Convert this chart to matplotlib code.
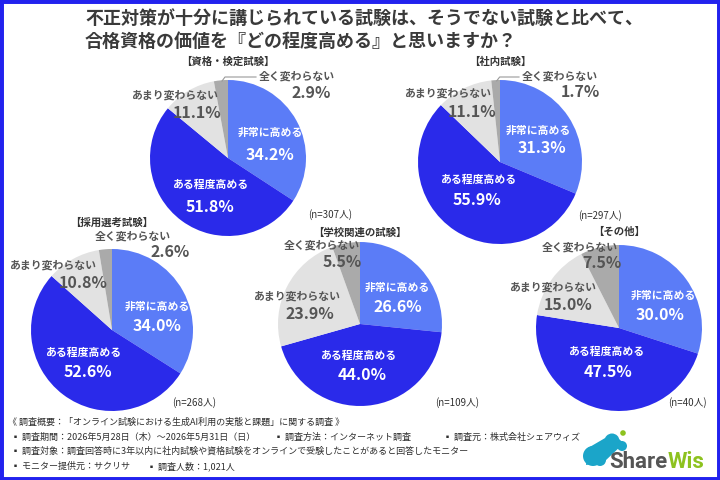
import numpy as np
import matplotlib
matplotlib.use("Agg")
import matplotlib.pyplot as plt
from matplotlib.patches import Rectangle, Circle, Polygon

plt.rcParams['font.family'] = ['Noto Sans CJK JP', 'DejaVu Sans']

# ---------------- data ----------------
title_lines = ["不正対策が十分に講じられている試験は、そうでない試験と比べて、",
               "合格資格の価値を『どの程度高める』と思いますか？"]
categories = ["非常に高める", "ある程度高める", "あまり変わらない", "全く変わらない"]
groups = ["【資格・検定試験】", "【社内試験】", "【採用選考試験】", "【学校関連の試験】", "【その他】"]
val_shikaku = [34.2, 51.8, 11.1, 2.9]
val_shanai = [31.3, 55.9, 11.1, 1.7]
val_saiyou = [34.0, 52.6, 10.8, 2.6]
val_gakkou = [26.6, 44.0, 23.9, 5.5]
val_sonota = [30.0, 47.5, 15.0, 7.5]
n_counts = [307, 297, 268, 109, 40]
footer_lines = [
    [("《 調査概要：「オンライン試験における生成AI利用の実態と課題」に関する調査 》", 8)],
    [("▪ 調査期間：2026年5月28日（木）～2026年5月31日（日）", 11),
     ("▪ 調査方法：インターネット調査", 274),
     ("▪ 調査元：株式会社シェアウィズ", 443)],
    [("▪ 調査対象：調査回答時に3年以内に社内試験や資格試験をオンラインで受験したことがあると回答したモニター", 11)],
    [("▪ モニター提供元：サクリサ", 11), ("▪ 調査人数：1,021人", 147)],
]
all_values = [val_shikaku, val_shanai, val_saiyou, val_gakkou, val_sonota]

# ---------------- layout (pixel coords, y from top) ----------------
colors = ["#5B7CF7", "#2A2AEA", "#E2E2E2", "#AAAAAA"]
pies = [  # cx, cy, r
    (228, 158, 78), (500, 162, 82), (112, 330, 81), (360, 324, 82), (619, 328, 83)]
group_title_y = [62, 62, 223, 233, 232]
# label offsets relative to centre: (name_xy, pct_xy) for each category
offsets = [
    [((42, -25), (42, -3)), ((-18, 27), (-18, 49)), ((-53, -63), (-31, -45)), ((69, -82), (83, -65))],
    [((38, -31), (42, -14)), ((-22, 18), (-23, 38)), ((-52, -69), (-28, -50)), ((60, -86), (80, -70))],
    [((45, -23), (45, -4)), ((-29, 23), (-24, 42)), ((-59, -65), (-29, -47)), ((21, -94), (58, -78))],
    [((37, -36), (38, -17)), ((-2, 32), (2, 51)), ((-63, -28), (-50, -10)), ((-38, -79), (-18, -62))],
    [((44, -32), (41, -13)), ((-13, 24), (-11, 44)), ((-66, -41), (-51, -23)), ((-39, -81), (-17, -65))],
]
n_pos = [(330, 215), (600, 216), (194, 403), (457, 403), (687, 403)]
leaders = [True, True, False, False, False]

W, H = 720, 480
fig = plt.figure(figsize=(7.2, 4.8), dpi=100)
ax = fig.add_axes([0, 0, 1, 1])

def Y(y):
    return H - y

for i, (vals, (cx, cy, r)) in enumerate(zip(all_values, pies)):
    ax.pie(vals, colors=colors, startangle=90, counterclock=False,
           center=(cx, Y(cy)), radius=r, wedgeprops=dict(linewidth=0))
    ax.text(cx, Y(group_title_y[i]), groups[i], ha='center', va='center',
            fontsize=7.5, fontweight='bold', color='#333333')
    for k in range(4):
        (nx, ny), (px, py) = offsets[i][k]
        col = 'white' if k < 2 else '#555555'
        ax.text(cx + nx, Y(cy + ny), categories[k], ha='center', va='center',
                fontsize=7.8, fontweight='bold', color=col)
        ax.text(cx + px, Y(cy + py), f"{vals[k]:.1f}%", ha='center', va='center',
                fontsize=11.5, fontweight='bold', color=col)
    if leaders[i]:
        a = np.deg2rad(90 + vals[3] * 3.6 / 2)
        ex, ey = cx + r * np.cos(a) * 0.99, cy - r * np.sin(a) * 0.99
        (nx, ny), _ = offsets[i][3]
        ty = cy + ny + 1
        tx = cx + nx - 41
        ax.plot([ex + 1, ex + 4, tx], [Y(ey), Y(ty), Y(ty)], color='#999999', lw=0.8)
    ax.text(n_pos[i][0], Y(n_pos[i][1]), f"(n={n_counts[i]}人)", ha='center', va='center',
            fontsize=7, color='#333333')

# title
for j, line in enumerate(title_lines):
    ax.text(85, Y(18 + j * 23.5), line, ha='left', va='center', fontsize=13,
            fontweight='bold', color='#3A3A3A')

# footer
fy = [422, 437, 451, 466]
for line, yy in zip(footer_lines, fy):
    for txt, xx in line:
        ax.text(xx, Y(yy), txt, ha='left', va='center', fontsize=6.5, color='#2E2E2E')

ax.set_xlim(0, W)
ax.set_ylim(0, H)
ax.set_aspect('equal')
ax.axis('off')

# logo
teal = '#1BA5C9'
for (x, y, rr) in [(593, 456, 10), (603, 449, 7), (612, 441, 7.5), (622, 446, 5), (600, 460, 6)]:
    ax.add_patch(Circle((x, Y(y)), rr, color=teal, lw=0))
ax.add_patch(Polygon([(588, Y(448)), (612, Y(434)), (624, Y(443)), (604, Y(462)), (586, Y(465))],
                     closed=True, color=teal, lw=0))
ax.add_patch(Circle((623, Y(433)), 2.8, color='#8DC21F', lw=0))
t1 = ax.text(609, Y(468), "Share", ha='left', va='baseline', fontsize=16,
             fontweight='bold', color='#555555', family='Roboto')
fig.canvas.draw()
bb = t1.get_window_extent()
x_end = ax.transData.inverted().transform((bb.x1, bb.y0))[0]
ax.text(x_end, Y(468), "Wis", ha='left', va='baseline', fontsize=16,
        fontweight='bold', color='#8DC21F', family='Roboto')

# frame
fig.patches.append(Rectangle((0, 0), 1, 1, transform=fig.transFigure, fill=False,
                             edgecolor='#2222EE', lw=5))

fig.savefig("out.png", dpi=100, facecolor='white')
